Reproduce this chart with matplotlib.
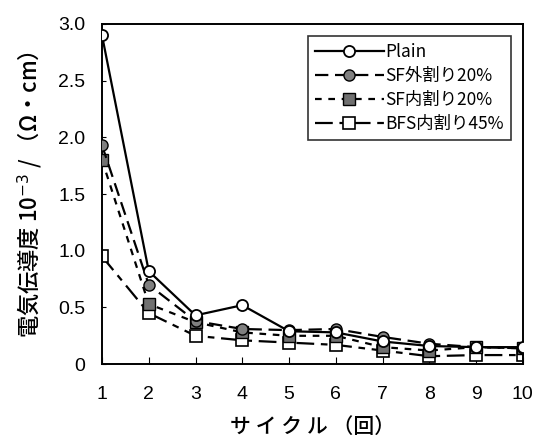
import matplotlib
matplotlib.use("Agg")
import matplotlib.pyplot as plt

plt.rcParams['font.family'] = ['Noto Sans CJK JP', 'DejaVu Sans']

# cycle number and conductivity values (x 10^-3 / (ohm cm))
cycles = [1, 2, 3, 4, 5, 6, 7, 8, 9, 10]
plain = [2.90, 0.82, 0.43, 0.52, 0.29, 0.28, 0.20, 0.16, 0.15, 0.15]
sf_out = [1.93, 0.70, 0.38, 0.31, 0.30, 0.31, 0.24, 0.18, 0.15, 0.14]
sf_in = [1.80, 0.53, 0.37, 0.28, 0.25, 0.25, 0.15, 0.12, 0.15, 0.14]
bfs_in = [0.95, 0.45, 0.25, 0.21, 0.19, 0.17, 0.12, 0.07, 0.08, 0.08]

series_labels = ["Plain", "SF外割り20%", "SF内割り20%", "BFS内割り45%"]
y_ticks = [0, 0.5, 1.0, 1.5, 2.0, 2.5, 3.0]
y_ticklabels = ["0", "0.5", "1.0", "1.5", "2.0", "2.5", "3.0"]

fig = plt.figure(figsize=(5.34, 4.43), dpi=100)
ax = fig.add_axes([0.191, 0.178, 0.788, 0.768])

ax.plot(cycles, plain, color='black', lw=1.6, ls='-', marker='o', ms=8,
        mfc='white', mec='black', mew=1.3, label=series_labels[0], zorder=5)
ax.plot(cycles, sf_out, color='black', lw=1.6, ls=(0, (6, 3)), marker='o', ms=8,
        mfc='#808080', mec='black', mew=1.0, label=series_labels[1], zorder=4)
ax.plot(cycles, sf_in, color='black', lw=1.6, ls=(0, (3, 3)), marker='s', ms=8,
        mfc='#707070', mec='black', mew=1.0, label=series_labels[2], zorder=3)
ax.plot(cycles, bfs_in, color='black', lw=1.6, ls=(0, (8, 3, 3, 3)), marker='s', ms=8,
        mfc='white', mec='black', mew=1.2, label=series_labels[3], zorder=2)

ax.set_xlim(1, 10)
ax.set_ylim(0, 3.0)
ax.set_xticks(cycles)
ax.set_yticks(y_ticks)
ax.set_yticklabels(y_ticklabels)
ax.tick_params(axis='x', direction='in', length=5, pad=16, labelsize=14)
ax.tick_params(axis='y', direction='in', length=3, pad=12, labelsize=14)
for lbl in ax.get_xticklabels() + ax.get_yticklabels():
    lbl.set_family(['Liberation Sans', 'DejaVu Sans'])
for sp in ax.spines.values():
    sp.set_linewidth(1.4)

ax.set_xlabel("サ イ ク ル （回）", fontsize=15, fontweight='medium', labelpad=9)
ax.set_ylabel("電気伝導度 10$^{-3}$ / （Ω・cm）", fontsize=16, fontweight='medium',
              labelpad=10)

leg = ax.legend(loc='upper right', bbox_to_anchor=(0.993, 0.99), fontsize=12.5,
                frameon=True, fancybox=False, edgecolor='black', handlelength=4.0,
                handletextpad=0.1, borderpad=0.4, labelspacing=0.35)
leg.get_frame().set_linewidth(1.2)

fig.savefig("out.png", dpi=100)
